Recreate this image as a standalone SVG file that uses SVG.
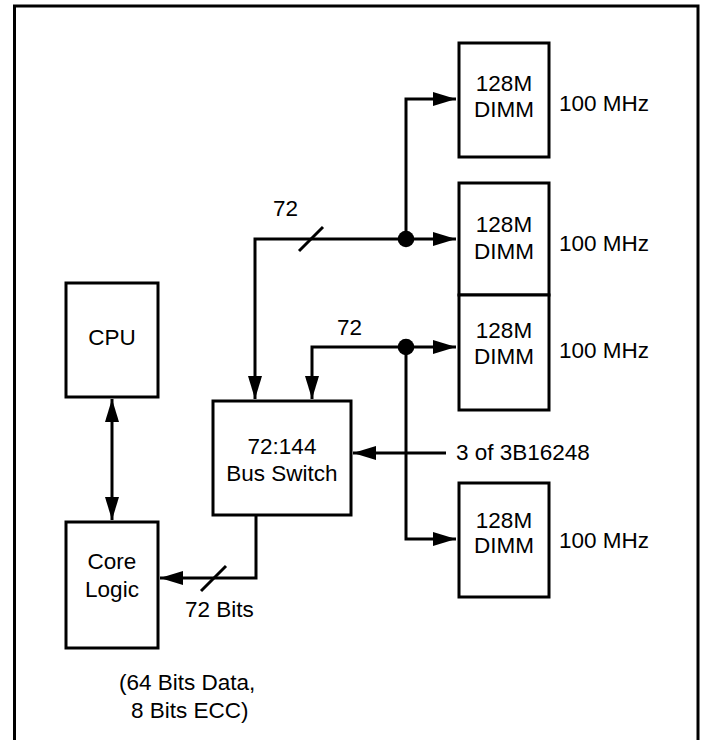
<svg xmlns="http://www.w3.org/2000/svg" width="702" height="740" viewBox="0 0 702 740">
<style>
.box{fill:#fff;stroke:#000;stroke-width:3}
.ln{fill:none;stroke:#000;stroke-width:3}
text{font-family:"Liberation Sans",Arial,sans-serif;font-size:22.5px;fill:#000}
.c{text-anchor:middle}
</style>
<defs>
<marker id="ah" markerWidth="23" markerHeight="14" refX="23" refY="7" orient="auto" markerUnits="userSpaceOnUse">
<polygon points="0,0 23,7 0,14" fill="#000"/>
</marker>
<marker id="ahs" markerWidth="23" markerHeight="14" refX="23" refY="7" orient="auto-start-reverse" markerUnits="userSpaceOnUse">
<polygon points="0,0 23,7 0,14" fill="#000"/>
</marker>
</defs>
<rect x="14.5" y="6" width="683.5" height="760" fill="none" stroke="#000" stroke-width="3"/>
<g id="connectors">
<polyline class="ln" points="255,399 255,239 456,239" marker-start="url(#ahs)" marker-end="url(#ahs)"/>
<polyline class="ln" points="406,239 406,99 456,99" marker-end="url(#ah)"/>
<polyline class="ln" points="312,399 312,347 456,347" marker-start="url(#ahs)" marker-end="url(#ahs)"/>
<polyline class="ln" points="406,347 406,539 456,539" marker-end="url(#ah)"/>
<line class="ln" x1="446" y1="453" x2="353" y2="453" marker-end="url(#ah)"/>
<line class="ln" x1="112" y1="399" x2="112" y2="520" marker-start="url(#ahs)" marker-end="url(#ahs)"/>
<polyline class="ln" points="256,516 256,578 160,578" marker-end="url(#ah)"/>
<line class="ln" x1="299" y1="251" x2="323" y2="227"/>
<line class="ln" x1="201" y1="591" x2="226" y2="566"/>
<circle cx="406" cy="239" r="8.3" fill="#000"/>
<circle cx="406" cy="347" r="8.3" fill="#000"/>
<text x="273" y="216">72</text>
<text x="337" y="335">72</text>
<text x="456" y="460">3 of 3B16248</text>
<text x="185" y="617">72 Bits</text>
<text x="119" y="690">(64 Bits Data,</text>
<text x="131" y="718">8 Bits ECC)</text>
</g>
<g id="dimm1">
<rect class="box" x="459" y="43" width="90" height="114"/>
<text class="c" x="504" y="91">128M</text>
<text class="c" x="504" y="117">DIMM</text>
<text x="559" y="111">100 MHz</text>
</g>
<g id="dimm2">
<rect class="box" x="459" y="183" width="90" height="112"/>
<text class="c" x="504" y="232">128M</text>
<text class="c" x="504" y="259">DIMM</text>
<text x="559" y="251">100 MHz</text>
</g>
<g id="dimm3">
<rect class="box" x="459" y="295" width="90" height="115"/>
<text class="c" x="504" y="338">128M</text>
<text class="c" x="504" y="364">DIMM</text>
<text x="559" y="358">100 MHz</text>
</g>
<g id="dimm4">
<rect class="box" x="459" y="483" width="90" height="114"/>
<text class="c" x="504" y="528">128M</text>
<text class="c" x="504" y="553">DIMM</text>
<text x="559" y="548">100 MHz</text>
</g>
<g id="cpu">
<rect class="box" x="66" y="283" width="92" height="114"/>
<text class="c" x="112" y="345">CPU</text>
</g>
<g id="switch">
<rect class="box" x="213" y="401" width="138" height="114"/>
<text class="c" x="282" y="454">72:144</text>
<text class="c" x="282" y="481">Bus Switch</text>
</g>
<g id="core">
<rect class="box" x="66" y="522" width="92" height="126"/>
<text class="c" x="112" y="569">Core</text>
<text class="c" x="112" y="597">Logic</text>
</g>
</svg>
